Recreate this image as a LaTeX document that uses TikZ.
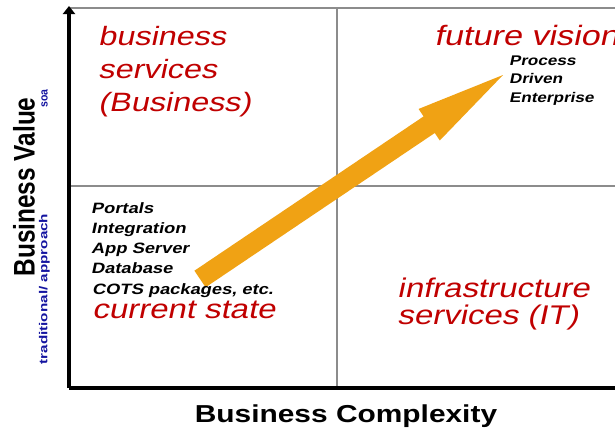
\documentclass[tikz,border=0pt]{standalone}
\usepackage{fontspec}
\setmainfont{Liberation Sans}
\newfontfamily\widefont{Liberation Sans}[FakeStretch=1.22]
\usetikzlibrary{arrows.meta,calc}
\definecolor{quadred}{RGB}{192,0,0}
\definecolor{gridgray}{RGB}{140,140,140}
\definecolor{arroworange}{RGB}{240,162,20}
\definecolor{labelblue}{RGB}{20,20,160}
\begin{document}
\begin{tikzpicture}[x=1pt,y=-1pt,
  quad/.style={font=\widefont\fontsize{27}{27}\selectfont, text=quadred, anchor=base west, inner sep=0pt, xslant=0.21},
  item/.style={font=\widefont\bfseries\fontsize{15}{15}\selectfont, anchor=base west, inner sep=0pt, xslant=0.21},
  smallitem/.style={font=\widefont\bfseries\fontsize{14}{14}\selectfont, anchor=base west, inner sep=0pt, xslant=0.21},
  axislabel/.style={font=\widefont\bfseries\fontsize{24.5}{24.5}\selectfont, inner sep=0pt},
  sidelabel/.style={font=\bfseries\fontsize{24.4}{24.4}\selectfont, inner sep=0pt, rotate=90},
  bluelabel/.style={font=\bfseries\fontsize{10.5}{10.5}\selectfont, text=labelblue, inner sep=0pt, rotate=90},
  gridline/.style={draw=gridgray, line width=2.5pt},
  axisline/.style={draw=black, line width=4pt},
  bigarrow/.style={fill=arroworange}
]
\useasboundingbox (0,0) rectangle (615,429);
% grid coordinates
\coordinate (origin) at (69,388);
\coordinate (ytop) at (69,6);
\coordinate (xend) at (616,388);
\coordinate (tl) at (69,8);
\coordinate (tr) at (616,8);
\coordinate (ml) at (69,186);
\coordinate (mr) at (616,186);
\coordinate (vt) at (337,8);
\coordinate (vb) at (337,386);
% grid lines
\draw[gridline] (tl) -- (tr);
\draw[gridline] (ml) -- (mr);
\draw[gridline] (vt) -- (vb);
% axes
\draw[axisline, -{Triangle[length=8pt,width=12pt]}] (origin) -- (ytop);
\draw[axisline] (origin) -- (xend);
% orange arrow
\coordinate (tail) at (200,279);
\coordinate (tip) at (503,75);
\coordinate (hb) at ($(tip)!89pt!(tail)$);
\fill[bigarrow]
  ($(tail)!10pt!90:(tip)$) -- ($(hb)!10pt!90:(tip)$) -- ($(hb)!19pt!90:(tip)$)
  -- (tip) -- ($(hb)!19pt!-90:(tip)$) -- ($(hb)!10pt!-90:(tip)$)
  -- ($(tail)!10pt!-90:(tip)$) -- cycle;
% quadrant texts
\node[quad, font=\widefont\fontsize{26.5}{26.5}\selectfont] (bs1) at (98,45) {business};
\node[quad, font=\widefont\fontsize{26.5}{26.5}\selectfont] (bs2) at (98,78) {services};
\node[quad, font=\widefont\fontsize{26.5}{26.5}\selectfont] (bs3) at (98,111) {(Business)};
\node[quad, font=\widefont\fontsize{28}{28}\selectfont] (fv) at (434,45) {future vision};
\node[smallitem] (pd1) at (509,65) {Process};
\node[smallitem] (pd2) at (509,83.5) {Driven};
\node[smallitem] (pd3) at (509,102) {Enterprise};
\node[item] (it1) at (91,213) {Portals};
\node[item] (it2) at (91,233) {Integration};
\node[item] (it3) at (91,253) {App Server};
\node[item] (it4) at (91,273) {Database};
\node[item] (it5) at (92,294) {COTS packages, etc.};
\node[quad] (cs) at (92,318) {current state};
\node[quad] (is1) at (397,297) {infrastructure};
\node[quad] (is2) at (397,324) {services (IT)};
% axis labels
\node[axislabel, anchor=base] (xlab) at (346,422) {Business Complexity};
\node[sidelabel] (ylab) at (24,187) {\scalebox{1}[1.22]{Business Value}};
\node[bluelabel] (soa) at (44.5,98.5) {\scalebox{1}[1.1]{soa}};
\node[bluelabel] (trad) at (44.5,289) {\scalebox{1.45}[1.1]{traditional/ approach}};
\end{tikzpicture}
\end{document}
